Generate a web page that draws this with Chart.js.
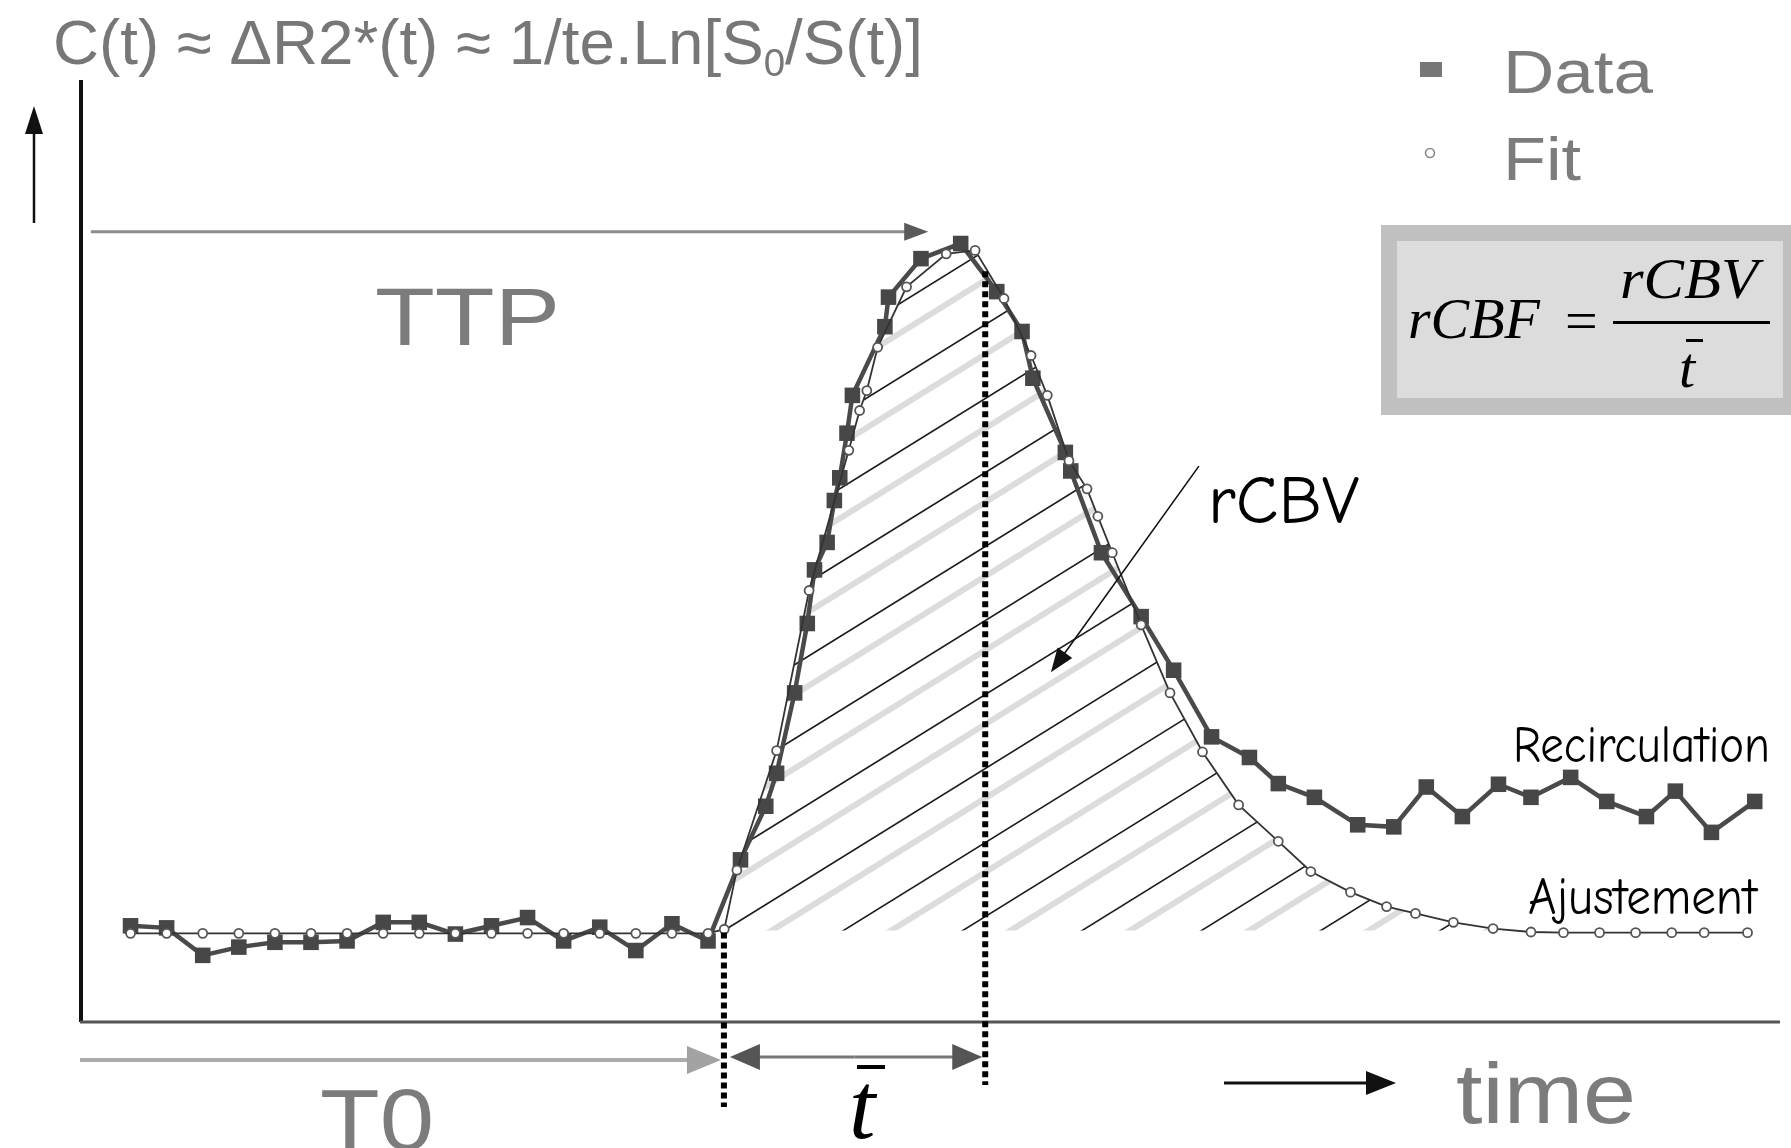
<!DOCTYPE html>
<html>
<head>
<meta charset="utf-8">
<title>Courbe de premier passage</title>
<script src="https://cdn.jsdelivr.net/npm/chart.js@4.4.1/dist/chart.umd.min.js"></script>
<style>
  html, body { margin: 0; padding: 0; background: #fff; }
  #wrap { width: 1791px; height: 1148px; }
</style>
</head>
<body>
<div id="wrap"><canvas id="curve" width="1791" height="1148"></canvas></div>
<script>
// --- Mesures (temps en échantillons, signal normalisé : pic = 100) ---
const dataTime = [0, 1, 2, 3, 4, 5, 6, 7, 8, 9, 10, 11, 12, 13, 14, 15, 16,
    16.9, 17.6, 17.9, 18.4, 18.75, 18.95, 19.3, 19.5, 19.65, 19.85, 20, 20.9, 21, 21.9, 23,
    24, 24.7, 25, 25.9, 26.05, 26.9, 28, 28.9, 29.95, 31, 31.8, 32.8, 34, 35, 35.9, 36.9,
    37.9, 38.8, 39.9, 40.9, 42, 42.8, 43.8, 45];
const dataValue = [0.7, 0.4, -3.6, -2.4, -1.7, -1.7, -1.5, 1.2, 1.2, -0.5, 0.7, 1.9, -1.5, 0.5, -2.9, 1.0, -1.5,
    10.3, 18.1, 22.9, 34.6, 44.7, 52.5, 56.5, 62.6, 65.9, 72.4, 77.9, 87.9, 92.2, 97.8, 100,
    93.0, 87.2, 80.4, 69.6, 66.9, 55.0, 45.7, 37.9, 28.2, 25.2, 21.4, 19.4, 15.4, 15.1, 20.9, 16.6,
    21.3, 19.4, 22.3, 18.8, 16.6, 20.3, 14.3, 18.8];

// Ajustement (gamma-variate) sans la recirculation
const fitTime = [0, 1, 2, 3, 4, 5, 6, 7, 8, 9, 10, 11, 12, 13, 14, 15, 16,
    16.45, 16.8, 17.9, 18.8, 19.9, 20.2, 20.4, 20.7, 21.5, 22.6, 23.4, 24.2, 24.95, 25.4,
    26, 26.5, 26.8, 27.2, 28, 28.8, 29.7, 30.7, 31.8, 32.7, 33.8, 34.8, 35.6, 36.65, 37.75,
    38.8, 39.7, 40.7, 41.7, 42.7, 43.6, 44.8];
const fitValue = [-0.4, -0.4, -0.4, -0.4, -0.4, -0.4, -0.4, -0.4, -0.4, -0.4, -0.4, -0.4, -0.4, -0.4, -0.4, -0.4, -0.4,
    0.2, 8.8, 26.2, 49.5, 69.9, 75.7, 78.6, 84.9, 93.7, 98.5, 99.0, 92.0, 83.7, 77.9,
    68.4, 64.3, 60.3, 55.0, 44.5, 34.6, 26.0, 18.3, 13.0, 8.6, 5.6, 3.5, 2.5, 1.2, 0.3,
    -0.2, -0.3, -0.3, -0.3, -0.3, -0.3, -0.3];

// Repères temporels
const T0 = 16.44;        // arrivée du bolus
const T_MEAN = 23.68;    // temps de transit moyen
const TTP_END = 22.1;    // fin de la flèche TTP
const TTP_LEVEL = 101.7;

const grey = '#7c7c7c';

// interpolation linéaire sur l'ajustement
function fitAt(t) {
    for (let i = 1; i < fitTime.length; i++) {
        if (fitTime[i] >= t) {
            const a = (t - fitTime[i - 1]) / (fitTime[i] - fitTime[i - 1]);
            return fitValue[i - 1] + a * (fitValue[i] - fitValue[i - 1]);
        }
    }
    return fitValue[fitValue.length - 1];
}

function arrow(ctx, x1, y1, x2, y2, color, width, len, half, headColor) {
    const ang = Math.atan2(y2 - y1, x2 - x1);
    ctx.save();
    ctx.strokeStyle = color;
    ctx.lineWidth = width;
    ctx.beginPath();
    ctx.moveTo(x1, y1);
    ctx.lineTo(x2 - Math.cos(ang) * len * 0.8, y2 - Math.sin(ang) * len * 0.8);
    ctx.stroke();
    ctx.fillStyle = headColor || color;
    ctx.beginPath();
    ctx.moveTo(x2, y2);
    ctx.lineTo(x2 - Math.cos(ang) * len - Math.sin(ang) * half, y2 - Math.sin(ang) * len + Math.cos(ang) * half);
    ctx.lineTo(x2 - Math.cos(ang) * len + Math.sin(ang) * half, y2 - Math.sin(ang) * len - Math.cos(ang) * half);
    ctx.closePath();
    ctx.fill();
    ctx.restore();
}

// texte compressé / étiré pour tenir dans une largeur donnée
function fittedText(ctx, text, x, y, font, color, width) {
    ctx.save();
    ctx.font = font;
    ctx.fillStyle = color;
    ctx.textBaseline = 'alphabetic';
    const w = ctx.measureText(text).width;
    ctx.translate(x, y);
    ctx.scale(width / w, 1);
    ctx.fillText(text, 0, 0);
    ctx.restore();
}

// --- Hachures de l'aire sous la courbe ajustée (rCBV) ---
const hatchPlugin = {
    id: 'hatch',
    beforeDatasetsDraw(chart) {
        const ctx = chart.ctx;
        const px = t => chart.scales.x.getPixelForValue(t);
        const py = v => chart.scales.y.getPixelForValue(v);
        ctx.save();
        ctx.beginPath();
        ctx.moveTo(px(T0), py(0));
        fitTime.forEach((t, i) => {
            if (t > T0) ctx.lineTo(px(t), py(Math.max(fitValue[i], 0)));
        });
        ctx.lineTo(px(fitTime[fitTime.length - 1]), py(0));
        ctx.closePath();
        ctx.clip();

        const x0 = px(T0), y0 = py(0);
        const slope = 0.62, gap = 74;
        const xa = x0 - 50, xb = chart.chartArea.right;
        const line = (off, color, w) => {
            ctx.strokeStyle = color;
            ctx.lineWidth = w;
            ctx.beginPath();
            ctx.moveTo(xa, y0 + off + slope * (x0 - xa));
            ctx.lineTo(xb, y0 + off - slope * (xb - x0));
            ctx.stroke();
        };
        for (let k = -8; k < 11; k++) line(-k * gap + gap * 0.4, '#dcdcdc', 6);
        for (let k = -8; k < 11; k++) line(-k * gap, '#1c1c1c', 1.6);
        ctx.restore();
    }
};

// --- Axes, flèches et textes ---
const notesPlugin = {
    id: 'notes',
    beforeDraw(chart) {
        const ctx = chart.ctx;
        ctx.save();
        ctx.fillStyle = '#fff';
        ctx.fillRect(0, 0, chart.width, chart.height);
        ctx.restore();
    },
    afterDatasetsDraw(chart) {
        const ctx = chart.ctx;
        const area = chart.chartArea;
        const px = t => chart.scales.x.getPixelForValue(t);
        const py = v => chart.scales.y.getPixelForValue(v);

        // axes
        ctx.save();
        ctx.strokeStyle = '#111';
        ctx.lineWidth = 4;
        ctx.beginPath();
        ctx.moveTo(area.left + 1, area.top);
        ctx.lineTo(area.left + 1, area.bottom);
        ctx.stroke();
        ctx.strokeStyle = '#555';
        ctx.lineWidth = 3;
        ctx.beginPath();
        ctx.moveTo(area.left, area.bottom);
        ctx.lineTo(area.right, area.bottom);
        ctx.stroke();
        ctx.restore();
        arrow(ctx, 34, 223, 34, 106, '#111', 2.5, 28, 9);

        // pointillés T0 et t moyen
        ctx.save();
        ctx.strokeStyle = '#000';
        ctx.lineWidth = 6;
        ctx.setLineDash([6, 4]);
        ctx.beginPath();
        ctx.moveTo(px(T0), py(0) + 2);
        ctx.lineTo(px(T0), 1107);
        ctx.moveTo(px(T_MEAN), py(fitAt(T_MEAN)) + 4);
        ctx.lineTo(px(T_MEAN), 1085);
        ctx.stroke();
        ctx.restore();

        // TTP
        arrow(ctx, px(-1.1), py(TTP_LEVEL), px(TTP_END), py(TTP_LEVEL), '#8c8c8c', 3, 24, 9, '#5a5a5a');
        fittedText(ctx, 'TTP', 375, 345, '82px "Liberation Sans", Arial, sans-serif', grey, 185);

        // T0 et t moyen sous l'axe
        arrow(ctx, area.left, 1060, px(T0) - 3, 1060, '#acacac', 4, 34, 14, '#a2a2a2');
        fittedText(ctx, 'T0', 320, 1150, '88px "Liberation Sans", Arial, sans-serif', grey, 114);
        const ym = 1057;
        arrow(ctx, (px(T0) + px(T_MEAN)) / 2, ym, px(T0) + 6, ym, '#777', 3, 30, 13, '#555');
        arrow(ctx, (px(T0) + px(T_MEAN)) / 2, ym, px(T_MEAN) - 3, ym, '#777', 3, 30, 13, '#555');
        ctx.save();
        ctx.font = 'italic 95px "Liberation Serif", "Times New Roman", serif';
        ctx.fillStyle = '#000';
        ctx.fillText('t', 849, 1138);
        ctx.fillRect(857, 1065, 28, 4);
        ctx.restore();

        // temps
        arrow(ctx, 1224, 1083, 1396, 1083, '#111', 3, 30, 12);
        fittedText(ctx, 'time', 1456, 1123, '85px "Liberation Sans", Arial, sans-serif', grey, 180);

        // titre avec S indice 0
        ctx.save();
        ctx.fillStyle = '#777';
        const big = '63px "Liberation Sans", Arial, sans-serif';
        const small = '38px "Liberation Sans", Arial, sans-serif';
        const parts = [['C(t) ≈ ΔR2*(t) ≈ 1/te.Ln[S', big, 0], ['0', small, 12], ['/S(t)]', big, 0]];
        let total = 0;
        parts.forEach(p => { ctx.font = p[1]; total += ctx.measureText(p[0]).width; });
        ctx.translate(53, 64);
        ctx.scale(870 / total, 1);
        let cx = 0;
        parts.forEach(p => {
            ctx.font = p[1];
            ctx.fillText(p[0], cx, p[2]);
            cx += ctx.measureText(p[0]).width;
        });
        ctx.restore();

        // légende
        ctx.save();
        ctx.fillStyle = '#777';
        ctx.fillRect(1420, 62, 22, 15);
        ctx.fillStyle = '#fff';
        ctx.strokeStyle = '#888';
        ctx.lineWidth = 1.6;
        ctx.beginPath();
        ctx.arc(1430, 153, 4.5, 0, Math.PI * 2);
        ctx.fill();
        ctx.stroke();
        ctx.restore();
        fittedText(ctx, 'Data', 1503, 93, '62px "Liberation Sans", Arial, sans-serif', grey, 150);
        fittedText(ctx, 'Fit', 1503, 180, '62px "Liberation Sans", Arial, sans-serif', grey, 78);

        // encadré rCBF = rCBV / t
        ctx.save();
        ctx.fillStyle = '#c0c0c0';
        ctx.fillRect(1381, 225, 410, 190);
        ctx.fillStyle = '#dcdcdc';
        ctx.fillRect(1397, 241, 386, 157);
        ctx.restore();
        const serif = 'italic 58px "Liberation Serif", "Times New Roman", serif';
        fittedText(ctx, 'rCBF', 1408, 338, serif, '#000', 132);
        fittedText(ctx, 'rCBV', 1620, 298, serif, '#000', 138);
        ctx.save();
        ctx.font = '58px "Liberation Serif", "Times New Roman", serif';
        ctx.fillStyle = '#000';
        ctx.fillText('=', 1565, 340);
        ctx.fillRect(1613, 321, 157, 3);
        ctx.font = serif;
        ctx.fillText('t', 1679, 387);
        ctx.fillRect(1686, 339, 17, 3);
        ctx.restore();

        // rCBV et flèche vers l'aire hachurée
        const hand = '"Comic Sans MS", "Comic Neue", "DejaVu Sans", sans-serif';
        fittedText(ctx, 'rCBV', 1208, 523, '68px ' + hand, '#000', 151);
        arrow(ctx, px(29.6), py(67.6), px(25.5), py(37.6), '#111', 1.6, 24, 9);

        // recirculation / ajustement
        fittedText(ctx, 'Recirculation', 1513, 762, '52px ' + hand, '#000', 257);
        fittedText(ctx, 'Ajustement', 1528, 914, '52px ' + hand, '#000', 229);
    }
};

new Chart(document.getElementById('curve'), {
    type: 'scatter',
    data: {
        datasets: [
            {
                label: 'Data',
                data: dataTime.map((t, i) => ({ x: t, y: dataValue[i] })),
                showLine: true,
                borderColor: '#4a4a4a',
                borderWidth: 4.5,
                pointStyle: 'rect',
                pointRadius: 11,
                pointBackgroundColor: '#474747',
                pointBorderWidth: 0,
                order: 2
            },
            {
                label: 'Fit',
                data: fitTime.map((t, i) => ({ x: t, y: fitValue[i] })),
                showLine: true,
                borderColor: '#333',
                borderWidth: 1.8,
                pointStyle: 'circle',
                pointRadius: 4.5,
                pointBackgroundColor: '#fff',
                pointBorderColor: '#555',
                pointBorderWidth: 1.8,
                order: 1
            }
        ]
    },
    options: {
        responsive: false,
        animation: false,
        devicePixelRatio: 1,
        layout: { padding: { left: 80, top: 80, right: 0, bottom: 126 } },
        scales: {
            x: { type: 'linear', min: -1.4, max: 45.7, display: false },
            y: { type: 'linear', min: -13.3, max: 123.8, display: false }
        },
        plugins: {
            legend: { display: false },
            tooltip: { enabled: false }
        }
    },
    plugins: [hatchPlugin, notesPlugin]
});
</script>
</body>
</html>
